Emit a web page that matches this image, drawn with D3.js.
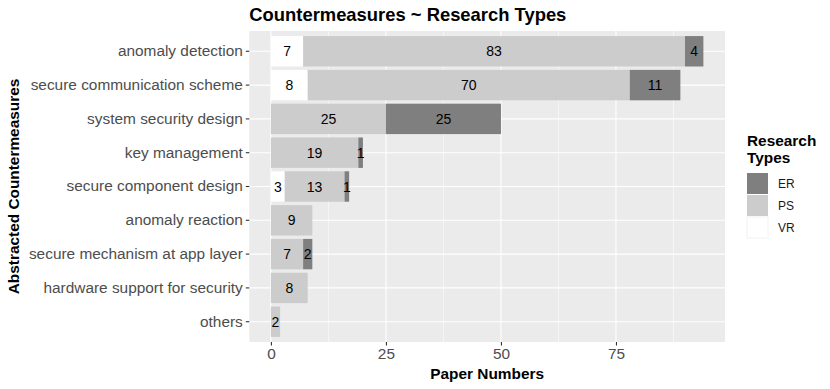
<!doctype html>
<html>
<head>
    <style>
        body { margin: 0; background: white; }
        svg text { font-family: "Liberation Sans", Arial, sans-serif; }
    </style>
    <script src="https://d3js.org/d3.v7.min.js"></script>
</head>
<body>
<script>
    // data
    var categories = ["anomaly detection", "secure communication scheme", "system security design",
        "key management", "secure component design", "anomaly reaction",
        "secure mechanism at app layer", "hardware support for security", "others"];
    var VR = [7, 8, 0, 0, 3, 0, 0, 0, 0];
    var PS = [83, 70, 25, 19, 13, 9, 7, 8, 2];
    var ER = [4, 11, 25, 1, 1, 0, 2, 0, 0];
    var stackKeys = ["VR", "PS", "ER"];
    var legendKeys = ["ER", "PS", "VR"];
    var xTicks = [0, 25, 50, 75];
    var colors = { ER: "#7f7f7f", PS: "#cccccc", VR: "#ffffff" };

    var width = 830, height = 389;
    var panel = { left: 249.3, right: 725, top: 31, bottom: 342 };

    var rows = categories.map(function (c, i) {
        return { cat: c, VR: VR[i], PS: PS[i], ER: ER[i] };
    });

    var svg = d3.select("body").append("svg")
        .attr("width", width)
        .attr("height", height);

    var maxTotal = d3.max(rows, function (d) { return d.VR + d.PS + d.ER; });
    var pad = maxTotal * 0.05;
    var x = d3.scaleLinear()
        .domain([-pad, maxTotal + pad])
        .range([panel.left, panel.right]);

    var y = d3.scaleBand()
        .domain(categories)
        .range([panel.top, panel.bottom])
        .paddingInner(0.1)
        .paddingOuter(0.15);

    // panel background
    svg.append("rect")
        .attr("x", panel.left).attr("y", panel.top)
        .attr("width", panel.right - panel.left)
        .attr("height", panel.bottom - panel.top)
        .attr("fill", "#ebebeb");

    // minor grid
    var minor = xTicks.map(function (t) { return t + 12.5; });
    svg.selectAll("line.minor").data(minor).enter().append("line")
        .attr("x1", function (d) { return x(d); }).attr("x2", function (d) { return x(d); })
        .attr("y1", panel.top).attr("y2", panel.bottom)
        .attr("stroke", "white").attr("stroke-width", 0.55);

    // major grid
    svg.selectAll("line.majx").data(xTicks).enter().append("line")
        .attr("x1", function (d) { return x(d); }).attr("x2", function (d) { return x(d); })
        .attr("y1", panel.top).attr("y2", panel.bottom)
        .attr("stroke", "white").attr("stroke-width", 1.1);
    svg.selectAll("line.majy").data(categories).enter().append("line")
        .attr("x1", panel.left).attr("x2", panel.right)
        .attr("y1", function (d) { return y(d) + y.bandwidth() / 2; })
        .attr("y2", function (d) { return y(d) + y.bandwidth() / 2; })
        .attr("stroke", "white").attr("stroke-width", 1.1);

    // stacked bars
    var series = d3.stack().keys(stackKeys)(rows);
    var layer = svg.selectAll("g.layer").data(series).enter().append("g")
        .attr("fill", function (d) { return colors[d.key]; });

    layer.selectAll("rect")
        .data(function (d) { return d.filter(function (p) { return p[1] > p[0]; }); })
        .enter().append("rect")
        .attr("x", function (d) { return x(d[0]); })
        .attr("y", function (d) { return y(d.data.cat); })
        .attr("width", function (d) { return x(d[1]) - x(d[0]); })
        .attr("height", y.bandwidth());

    layer.selectAll("text")
        .data(function (d) { return d.filter(function (p) { return p[1] > p[0]; }); })
        .enter().append("text")
        .attr("x", function (d) { return x((d[0] + d[1]) / 2); })
        .attr("y", function (d) { return y(d.data.cat) + y.bandwidth() / 2; })
        .attr("dy", "0.36em")
        .attr("text-anchor", "middle")
        .attr("fill", "black")
        .style("font-size", "14px")
        .text(function (d) { return d[1] - d[0]; });

    // axes
    var xAxis = svg.append("g")
        .attr("transform", "translate(0," + panel.bottom + ")")
        .call(d3.axisBottom(x).tickValues(xTicks).tickSize(3.5).tickPadding(3));
    var yAxis = svg.append("g")
        .attr("transform", "translate(" + panel.left + ",0)")
        .call(d3.axisLeft(y).tickSize(3.5).tickPadding(3));

    [xAxis, yAxis].forEach(function (a) {
        a.select(".domain").remove();
        a.selectAll(".tick line").attr("stroke", "#333333").attr("stroke-width", 1.1);
        a.selectAll(".tick text")
            .attr("fill", "#4d4d4d")
            .style("font-size", "15.4px")
            .style("font-family", "Liberation Sans, Arial, sans-serif");
    });

    // titles
    svg.append("text")
        .attr("x", panel.left).attr("y", 21)
        .style("font-size", "18.4px").style("font-weight", "bold")
        .text("Countermeasures ~ Research Types");

    svg.append("text")
        .attr("x", (panel.left + panel.right) / 2).attr("y", 379)
        .attr("text-anchor", "middle")
        .style("font-size", "15.4px").style("font-weight", "bold")
        .text("Paper Numbers");

    svg.append("text")
        .attr("transform", "translate(19," + (panel.top + panel.bottom) / 2 + ") rotate(-90)")
        .attr("text-anchor", "middle")
        .style("font-size", "15.4px").style("font-weight", "bold")
        .text("Abstracted Countermeasures");

    // legend
    var legend = svg.append("g").attr("transform", "translate(747,0)");
    legend.append("text").attr("x", 0).attr("y", 146)
        .style("font-size", "15.4px").style("font-weight", "bold").text("Research");
    legend.append("text").attr("x", 0).attr("y", 163)
        .style("font-size", "15.4px").style("font-weight", "bold").text("Types");

    var item = legend.selectAll("g.item").data(legendKeys).enter().append("g")
        .attr("transform", function (d, i) { return "translate(0," + (173 + i * 22) + ")"; });
    item.append("rect")
        .attr("width", 21).attr("height", 21)
        .attr("fill", function (d) { return colors[d]; })
        .attr("stroke", function (d) { return d === "VR" ? "#f2f2f2" : "none"; });
    item.append("text")
        .attr("x", 31).attr("y", 10.5).attr("dy", "0.36em")
        .attr("fill", "#1a1a1a")
        .style("font-size", "12px")
        .text(function (d) { return d; });
</script>
</body>
</html>
